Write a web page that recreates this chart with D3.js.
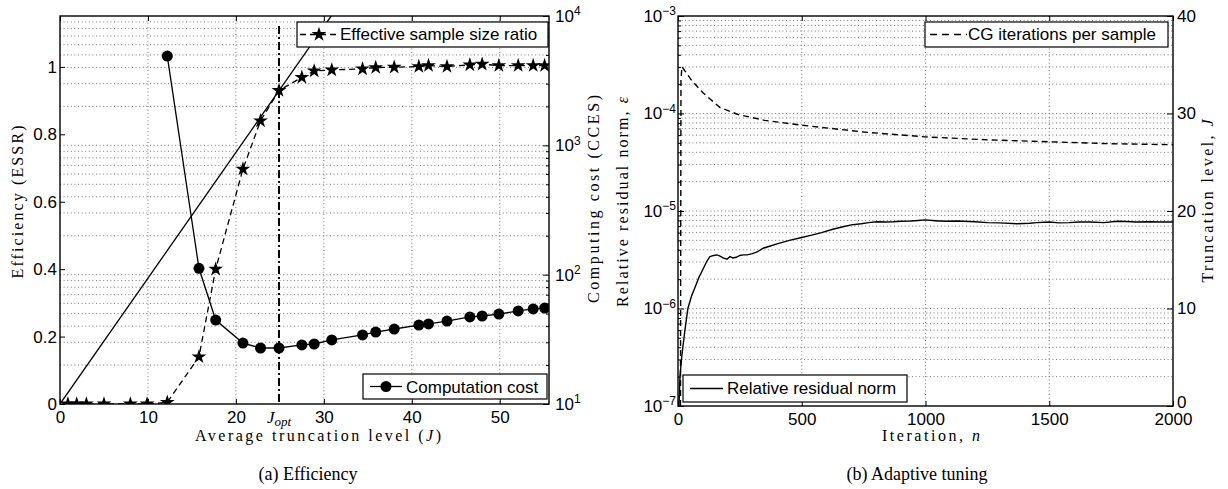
<!DOCTYPE html>
<html><head><meta charset="utf-8">
<script src="https://cdn.jsdelivr.net/npm/d3@7"></script>
<style>body{margin:0;background:#fff}</style>
</head><body><svg id="c" width="1228" height="489"></svg>
<script>
// ---------- Panel (a) data ----------
const essrJ   = [0.9, 1.9, 3.0, 5.0, 8.0, 9.9, 12.2, 15.8, 17.7, 20.8, 22.8, 24.9, 27.5, 28.9, 30.9, 34.4, 35.9, 38.0, 40.8, 41.9, 44.0, 46.6, 48.0, 49.9, 52.1, 53.8, 55.1];
const essrVal = [0, 0, 0, 0, 0, 0, 0.005, 0.14, 0.40, 0.697, 0.84, 0.93, 0.969, 0.988, 0.991, 0.994, 0.998, 0.999, 1.001, 1.004, 1.001, 1.006, 1.008, 1.004, 1.004, 1.004, 1.004];
const costJ   = [12.2, 15.8, 17.7, 20.8, 22.8, 24.9, 27.5, 28.9, 30.9, 34.4, 35.9, 38.0, 40.8, 41.9, 44.0, 46.6, 48.0, 49.9, 52.1, 53.8, 55.1];
const costVal = [4900, 112, 44.6, 29.6, 27.1, 27.1, 28.6, 29.1, 31.3, 34.2, 36.0, 38.0, 40.8, 41.6, 43.8, 47.1, 47.9, 49.6, 52.4, 54.3, 55.2];
const refLineJ   = [0, 31];
const refLineVal = [0, 1.157];
const jOpt = 24.9;
const effXTicks  = [0, 10, 20, 30, 40, 50];
const effYTicks  = [0, 0.2, 0.4, 0.6, 0.8, 1];
const costTicks  = [1e1, 1e2, 1e3, 1e4];

// ---------- Panel (b) data ----------
const iterN    = [4, 8, 15, 28, 40, 55, 69, 85, 100, 115, 129, 145, 157, 170, 182, 198, 210, 222, 235, 250, 263, 280, 300, 320, 344, 370, 400, 450, 500, 540, 580, 625, 667, 700, 740, 770, 804, 840, 870, 900, 938, 970, 998, 1040, 1080, 1130, 1200, 1250, 1300, 1370, 1420, 1450, 1500, 1540, 1580, 1620, 1665, 1720, 1775, 1810, 1850, 1900, 1950, 2000];
const residual = [1.0e-7, 2.0e-7, 3.2e-7, 6.0e-7, 1.0e-6, 1.35e-6, 1.65e-6, 2.1e-6, 2.5e-6, 3.0e-6, 3.4e-6, 3.5e-6, 3.55e-6, 3.45e-6, 3.3e-6, 3.2e-6, 3.4e-6, 3.3e-6, 3.35e-6, 3.5e-6, 3.55e-6, 3.55e-6, 3.65e-6, 3.8e-6, 4.15e-6, 4.35e-6, 4.6e-6, 5.0e-6, 5.35e-6, 5.65e-6, 6.0e-6, 6.5e-6, 6.9e-6, 7.2e-6, 7.4e-6, 7.6e-6, 7.75e-6, 7.7e-6, 7.75e-6, 7.85e-6, 7.9e-6, 8.0e-6, 8.1e-6, 7.95e-6, 7.85e-6, 7.9e-6, 7.75e-6, 7.6e-6, 7.55e-6, 7.4e-6, 7.5e-6, 7.6e-6, 7.7e-6, 7.55e-6, 7.6e-6, 7.7e-6, 7.7e-6, 7.6e-6, 7.85e-6, 7.8e-6, 7.7e-6, 7.75e-6, 7.7e-6, 7.7e-6];
const cgN    = [10, 12, 16, 30, 55, 102, 170, 243, 350, 500, 750, 1000, 1250, 1500, 1750, 2000];
const cgIter = [0, 33.5, 34.8, 34.3, 33.4, 32.1, 30.6, 29.9, 29.3, 28.8, 28.1, 27.6, 27.3, 27.1, 26.9, 26.8];
const iterTicks  = [0, 500, 1000, 1500, 2000];
const resTicks   = [1e-7, 1e-6, 1e-5, 1e-4, 1e-3];
const truncTicks = [0, 10, 20, 30, 40];

// ---------- helpers ----------
const svg = d3.select('#c');
svg.append('rect').attr('width',1228).attr('height',489).attr('fill','#fff');
const SANS = 'Liberation Sans, Arial, sans-serif';
const SERIF = 'Liberation Serif, Times New Roman, serif';
const TICKFS = 17;
const STAR = 68;

function minorLog(lo, hi){
  const out=[];
  for(let e=Math.round(Math.log10(lo)); e<Math.round(Math.log10(hi)); e++)
    for(let k=2;k<=9;k++) out.push(k*Math.pow(10,e));
  return out;
}
function styleAxis(g){
  g.select('.domain').remove();
  g.selectAll('.tick line').attr('stroke','#000').attr('stroke-width',1);
  g.selectAll('.tick text').attr('font-family',SANS).attr('font-size',TICKFS).attr('fill','#000');
}
function powLabels(g){
  g.selectAll('.tick text').each(function(d){
    const t=d3.select(this); t.text('');
    t.append('tspan').text('10');
    const e=Math.round(Math.log10(d));
    t.append('tspan').attr('dy','-0.55em').attr('font-size',12).text(e<0?'\u2212'+(-e):String(e));
  });
}
function gridLines(g, xs, ys, x, y, box){
  xs.forEach(v=>g.append('line').attr('x1',x(v)).attr('x2',x(v)).attr('y1',box.t).attr('y2',box.b));
  ys.forEach(v=>g.append('line').attr('x1',box.l).attr('x2',box.r).attr('y1',y(v)).attr('y2',y(v)));
  g.selectAll('line').attr('stroke','#666').attr('stroke-width',0.9).attr('stroke-dasharray','1,2.6');
}
function legend(x0,y0,x1,y1,lx0,lx1,tx,ty,label,dash,marker){
  const g=svg.append('g');
  g.append('rect').attr('x',x0).attr('y',y0).attr('width',x1-x0).attr('height',y1-y0)
    .attr('fill','#fff').attr('stroke','#000').attr('stroke-width',1.2);
  const my=(y0+y1)/2;
  g.append('line').attr('x1',lx0).attr('x2',lx1).attr('y1',my).attr('y2',my)
    .attr('stroke','#000').attr('stroke-width',1.3).attr('stroke-dasharray',dash||null);
  if(marker==='star') g.append('path').attr('d',d3.symbol(d3.symbolStar,STAR)()).attr('transform',`translate(${(lx0+lx1)/2},${my})`).attr('fill','#000');
  if(marker==='circle') g.append('circle').attr('cx',(lx0+lx1)/2).attr('cy',my).attr('r',5.5).attr('fill','#000');
  g.append('text').attr('x',tx).attr('y',ty).attr('font-family',SANS).attr('font-size',17).text(label);
}
function rotLabel(x,y,fs){
  return svg.append('text').attr('transform',`translate(${x},${y}) rotate(-90)`).attr('text-anchor','middle')
    .attr('font-family',SERIF).attr('font-size',fs||16);
}

// ================= Panel (a) =================
const A={l:60,r:549,t:16,b:404};
const xA=d3.scaleLinear([0,55.6],[A.l,A.r]);
const yA=d3.scaleLinear([0,1.151],[A.b,A.t]);
const yAR=d3.scaleLog([1e1,1e4],[A.b,A.t]);

svg.append('clipPath').attr('id','clipA').append('rect').attr('x',A.l).attr('y',A.t).attr('width',A.r-A.l).attr('height',A.b-A.t);
gridLines(svg.append('g'), effXTicks.slice(1), costTicks.concat(minorLog(1e1,1e4)).filter(v=>v>10&&v<1e4), xA, yAR, A);

const pA=svg.append('g').attr('clip-path','url(#clipA)');
pA.append('path').attr('d',d3.line().x((d,i)=>xA(refLineJ[i])).y((d,i)=>yA(refLineVal[i]))(refLineJ))
  .attr('fill','none').attr('stroke','#000').attr('stroke-width',1.3);
pA.append('line').attr('x1',xA(jOpt)).attr('x2',xA(jOpt)).attr('y1',A.t+10).attr('y2',A.b)
  .attr('stroke','#000').attr('stroke-width',2).attr('stroke-dasharray','8,3,2,3');
pA.append('path').attr('d',d3.line().x((d,i)=>xA(essrJ[i])).y((d,i)=>yA(essrVal[i]))(essrJ))
  .attr('fill','none').attr('stroke','#000').attr('stroke-width',1.3).attr('stroke-dasharray','6,4');
pA.append('path').attr('d',d3.line().x((d,i)=>xA(costJ[i])).y((d,i)=>yAR(costVal[i]))(costJ))
  .attr('fill','none').attr('stroke','#000').attr('stroke-width',1.3);
pA.selectAll('.st').data(essrJ).enter().append('path').attr('d',d3.symbol(d3.symbolStar,STAR)())
  .attr('transform',(d,i)=>`translate(${xA(d)},${yA(essrVal[i])})`).attr('fill','#000');
pA.selectAll('.ci').data(costJ).enter().append('circle').attr('cx',d=>xA(d)).attr('cy',(d,i)=>yAR(costVal[i])).attr('r',5.5).attr('fill','#000');

// axes (a)
let g;
g=svg.append('g').attr('transform',`translate(0,${A.b})`).call(d3.axisBottom(xA).tickValues(effXTicks).tickFormat(d3.format('d')).tickSizeInner(-5).tickSizeOuter(0).tickPadding(3)); styleAxis(g);
g.selectAll('.tick text').attr('dy','0.95em');
g=svg.append('g').attr('transform',`translate(0,${A.t})`).call(d3.axisTop(xA).tickValues(effXTicks).tickFormat('').tickSizeInner(-5).tickSizeOuter(0)); styleAxis(g);
g=svg.append('g').attr('transform',`translate(${A.l},0)`).call(d3.axisLeft(yA).tickValues(effYTicks).tickFormat(d=>d===0||d===1?String(d):d3.format('.1f')(d)).tickSizeInner(-5).tickSizeOuter(0).tickPadding(3)); styleAxis(g);
g=svg.append('g').attr('transform',`translate(${A.r},0)`).call(d3.axisRight(yAR).tickValues(costTicks).tickSizeInner(-6).tickSizeOuter(0).tickPadding(6)); styleAxis(g); powLabels(g);
g=svg.append('g').attr('transform',`translate(${A.r},0)`).call(d3.axisRight(yAR).tickValues(minorLog(1e1,1e4)).tickFormat('').tickSizeInner(-3).tickSizeOuter(0)); styleAxis(g);
svg.append('rect').attr('x',A.l).attr('y',A.t).attr('width',A.r-A.l).attr('height',A.b-A.t).attr('fill','none').attr('stroke','#000').attr('stroke-width',1.4);

// J_opt label
const jl=svg.append('text').attr('x',267).attr('y',423).attr('font-family',SERIF).attr('font-size',17).attr('font-style','italic');
jl.append('tspan').text('J');
jl.append('tspan').attr('dy','3').attr('font-size',13).text('opt');

legend(297,22,548,47,300,338,340,40,'Effective sample size ratio','6,4','star');
legend(363,374,547,399,370,402,406,393,'Computation cost',null,'circle');

const xl=svg.append('text').attr('x',318).attr('y',441).attr('text-anchor','middle').attr('font-family',SERIF).attr('font-size',16)
  .attr('textLength',246).attr('lengthAdjust','spacing');
xl.append('tspan').text('Average truncation level (');
xl.append('tspan').attr('font-style','italic').text('J');
xl.append('tspan').text(')');
rotLabel(23,202).attr('textLength',153).attr('lengthAdjust','spacing').text('Efficiency (ESSR)');
rotLabel(599,199).attr('textLength',208).attr('lengthAdjust','spacing').text('Computing cost (CCES)');
svg.append('text').attr('x',308).attr('y',480).attr('text-anchor','middle').attr('font-family',SERIF).attr('font-size',18).text('(a) Efficiency');

// ================= Panel (b) =================
const B={l:678,r:1173,t:16,b:406};
const xB=d3.scaleLinear([0,2000],[B.l,B.r]);
const yB=d3.scaleLog([1e-7,1e-3],[B.b,B.t]);
const yBR=d3.scaleLinear([0,40],[B.b,B.t]);

svg.append('clipPath').attr('id','clipB').append('rect').attr('x',B.l).attr('y',B.t).attr('width',B.r-B.l).attr('height',B.b-B.t);
gridLines(svg.append('g'), iterTicks.slice(1,-1), resTicks.concat(minorLog(1e-7,1e-3)).filter(v=>v>1e-7*1.01&&v<1e-3*0.99), xB, yB, B);

const pB=svg.append('g').attr('clip-path','url(#clipB)');
pB.append('path').attr('d',d3.line().x((d,i)=>xB(iterN[i])).y((d,i)=>yB(residual[i]))(iterN))
  .attr('fill','none').attr('stroke','#000').attr('stroke-width',1.4);
pB.append('path').attr('d',d3.line().x((d,i)=>xB(cgN[i])).y((d,i)=>yBR(cgIter[i]))(cgN))
  .attr('fill','none').attr('stroke','#000').attr('stroke-width',1.4).attr('stroke-dasharray','6,4');

g=svg.append('g').attr('transform',`translate(0,${B.b})`).call(d3.axisBottom(xB).tickValues(iterTicks).tickFormat(d3.format('d')).tickSizeInner(-5).tickSizeOuter(0).tickPadding(3)); styleAxis(g);
g.selectAll('.tick text').attr('dy','0.95em');
g=svg.append('g').attr('transform',`translate(0,${B.t})`).call(d3.axisTop(xB).tickValues(iterTicks).tickFormat('').tickSizeInner(-5).tickSizeOuter(0)); styleAxis(g);
g=svg.append('g').attr('transform',`translate(${B.l},0)`).call(d3.axisLeft(yB).tickValues(resTicks).tickSizeInner(-6).tickSizeOuter(0).tickPadding(2)); styleAxis(g); powLabels(g);
g=svg.append('g').attr('transform',`translate(${B.l},0)`).call(d3.axisLeft(yB).tickValues(minorLog(1e-7,1e-3)).tickFormat('').tickSizeInner(-3).tickSizeOuter(0)); styleAxis(g);
g=svg.append('g').attr('transform',`translate(${B.r},0)`).call(d3.axisRight(yBR).tickValues(truncTicks).tickFormat(d3.format('d')).tickSizeInner(-6).tickSizeOuter(0).tickPadding(4)); styleAxis(g);
g.selectAll('.tick text').filter(d=>d===0).attr('dy','0.1em');
svg.append('rect').attr('x',B.l).attr('y',B.t).attr('width',B.r-B.l).attr('height',B.b-B.t).attr('fill','none').attr('stroke','#000').attr('stroke-width',1.4);

legend(925,22,1168,47,930,967,968,40,'CG iterations per sample','7,5',null);
legend(683,375,907,402,690,723,727,394,'Relative residual norm',null,null);

const il=svg.append('text').attr('x',931).attr('y',441).attr('text-anchor','middle').attr('font-family',SERIF).attr('font-size',16)
  .attr('textLength',98).attr('lengthAdjust','spacing');
il.append('tspan').text('Iteration, '); il.append('tspan').attr('font-style','italic').text('n');
const rl=rotLabel(628,202); rl.attr('textLength',210).attr('lengthAdjust','spacing');
rl.append('tspan').text('Relative residual norm, '); rl.append('tspan').attr('font-style','italic').text('\u03B5');
const tl=rotLabel(1213,201); tl.attr('textLength',163).attr('lengthAdjust','spacing');
tl.append('tspan').text('Truncation level, '); tl.append('tspan').attr('font-style','italic').text('J');
svg.append('text').attr('x',917).attr('y',480).attr('text-anchor','middle').attr('font-family',SERIF).attr('font-size',18).text('(b) Adaptive tuning');
</script></body></html>
